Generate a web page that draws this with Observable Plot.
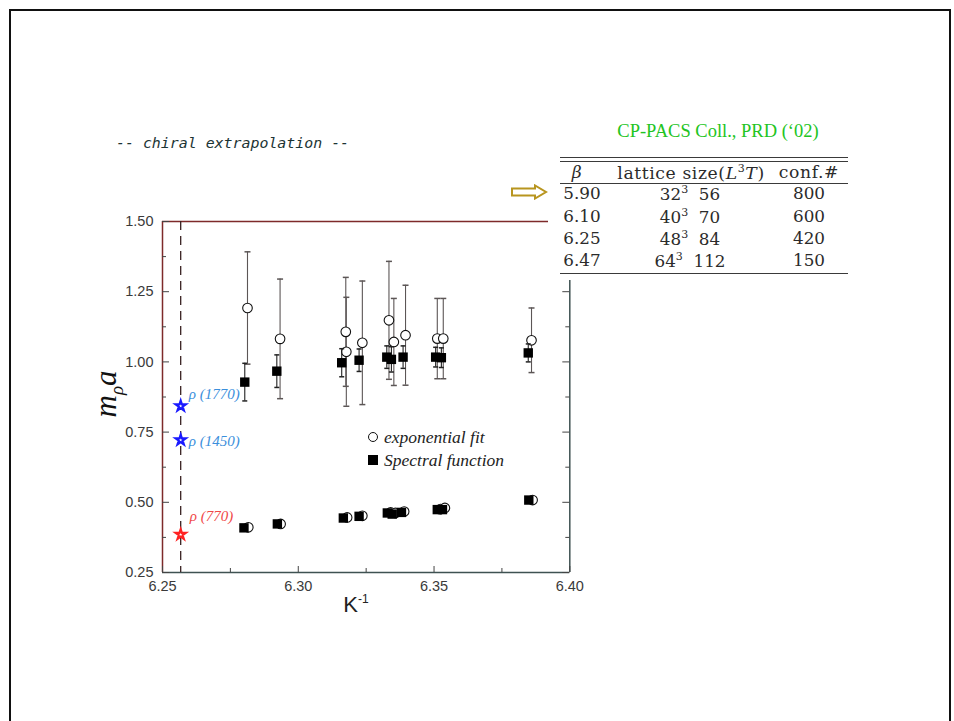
<!DOCTYPE html>
<html><head><meta charset="utf-8">
<script src="https://cdn.jsdelivr.net/npm/d3@7"></script>
<script src="https://cdn.jsdelivr.net/npm/@observablehq/plot@0.6"></script>
<style>
html,body{margin:0;padding:0;overflow:hidden;background:#fff;}
#page{position:relative;width:954px;height:721px;overflow:hidden;background:#fff;}
#page > svg.chart{position:absolute;left:0;top:0;}
.abs{position:absolute;white-space:nowrap;line-height:1;}
#border{position:absolute;left:9px;top:9px;width:942px;height:800px;border:2px solid #111;box-sizing:border-box;}
#title{left:116px;top:143px;transform:translateY(-50%);font-family:"DejaVu Sans Mono",monospace;font-style:oblique;font-size:14.9px;color:#1c3434;}
#cite{left:718px;top:131px;transform:translate(-50%,-50%);font-family:"Liberation Serif","Times New Roman",serif;font-size:18.5px;color:#22c422;}
#table{position:absolute;left:548px;top:148px;width:304px;height:132px;background:#fff;}
#table .ln{position:absolute;left:12px;width:288px;height:1.3px;background:#3a3a3a;}
#table .c{position:absolute;transform:translate(-50%,-50%);white-space:nowrap;line-height:1;font-family:"DejaVu Serif",serif;font-size:16.8px;color:#2b2b2b;}
#table .h{font-size:17.2px;letter-spacing:0.6px;}
#arrow{position:absolute;left:510px;top:184px;}
#ylab{left:108px;top:394px;transform:translate(-50%,-50%) rotate(-90deg);font-family:"Liberation Serif","Times New Roman",serif;font-style:italic;font-size:31px;color:#111;}
#ylab sub{font-size:19px;vertical-align:-7px;}
#xlab{left:356px;top:604px;transform:translate(-50%,-50%);font-family:"Liberation Sans",Arial,sans-serif;font-size:22px;color:#222;}
#xlab sup{font-size:12px;vertical-align:9px;}
.leg{font-family:"Liberation Serif","Times New Roman",serif;font-style:italic;font-size:17.5px;color:#222;transform:translateY(-50%);}
.sym{position:absolute;box-sizing:border-box;transform:translate(-50%,-50%);}
</style></head>
<body><div id="page"></div>
<script>
// ---- data ----
const xMajorTicks = [6.25, 6.30, 6.35, 6.40];
const xMinorTicks = [6.275, 6.325, 6.375];
const yMajorTicks = [0.25, 0.50, 0.75, 1.00, 1.25, 1.50];
const yMinorTicks = [0.375, 0.625, 0.875, 1.125, 1.375];

// excited-state (upper) masses: exponential fit
const expX   = [6.2813, 6.2933, 6.3175, 6.3177, 6.3236, 6.3334, 6.3352, 6.3395, 6.3512, 6.3534, 6.3859];
const expY   = [1.192, 1.082, 1.107, 1.036, 1.068, 1.148, 1.071, 1.095, 1.083, 1.083, 1.077];
const expErr = [0.200, 0.213, 0.194, 0.194, 0.220, 0.210, 0.155, 0.178, 0.143, 0.143, 0.115];
// excited-state (upper) masses: spectral function
const spX   = [6.2803, 6.2921, 6.3160, 6.3224, 6.3326, 6.3343, 6.3386, 6.3506, 6.3527, 6.3847];
const spY   = [0.928, 0.967, 0.997, 1.006, 1.017, 1.009, 1.017, 1.017, 1.015, 1.032];
const spErr = [0.067, 0.058, 0.050, 0.040, 0.040, 0.045, 0.040, 0.035, 0.035, 0.032];
// ground state (lower)
const expLowX = [6.2816, 6.2935, 6.3180, 6.3236, 6.3340, 6.3358, 6.3390, 6.3524, 6.3540, 6.3863];
const expLowY = [0.411, 0.423, 0.446, 0.452, 0.464, 0.462, 0.467, 0.476, 0.480, 0.508];
const spLowX  = [6.2800, 6.2923, 6.3166, 6.3224, 6.3328, 6.3346, 6.3380, 6.3512, 6.3531, 6.3849];
const spLowY  = [0.409, 0.423, 0.444, 0.450, 0.462, 0.458, 0.464, 0.474, 0.474, 0.508];

// chiral limit and experimental rho masses
const chiralLimit = 6.2567;
const starLabels = ["ρ (1770)", "ρ (1450)", "ρ (770)"];
const starY = [0.843, 0.722, 0.385];

// table
const tableHeader = ["β", "lattice size(L³T)", "conf.#"];
const tableBeta = ["5.90", "6.10", "6.25", "6.47"];
const tableLattice = [["32", "56"], ["40", "70"], ["48", "84"], ["64", "112"]];
const tableConf = ["800", "600", "420", "150"];

// ---- build ----
const exp = expX.map((x, i) => ({x, y: expY[i], e: expErr[i]}));
const sp = spX.map((x, i) => ({x, y: spY[i], e: spErr[i]}));
const expLow = expLowX.map((x, i) => ({x, y: expLowY[i]}));
const spLow = spLowX.map((x, i) => ({x, y: spLowY[i]}));
const stars = starY.map((y, i) => ({x: chiralLimit, y, label: starLabels[i]}));

const cap = {draw(ctx, size) { const w = Math.sqrt(size / Math.PI); ctx.moveTo(-w, 0); ctx.lineTo(w, 0); }};

const W = 954, H = 721, mL = 162, mR = 384.7, mT = 221, mB = 149;
const fw = W - mL - mR, fh = H - mT - mB;
const frameRed = "#7e2a2a", frameGray = "#3f5252";
const labelFont = "Liberation Serif, Times New Roman, serif";

const chart = Plot.plot({
  width: W, height: H,
  marginLeft: mL, marginRight: mR, marginTop: mT, marginBottom: mB,
  x: {domain: [6.25, 6.40]},
  y: {domain: [0.25, 1.50]},
  className: "chart",
  style: {background: "transparent", fontFamily: "Liberation Sans, Arial, sans-serif"},
  marks: [
    // frame
    Plot.ruleY([1.50], {stroke: frameRed, strokeWidth: 1.5}),
    Plot.ruleX([6.25], {stroke: frameRed, strokeWidth: 1.5}),
    Plot.ruleY([0.25], {stroke: frameGray, strokeWidth: 1.5}),
    Plot.ruleX([6.40], {stroke: frameGray, strokeWidth: 1.5}),
    // inward ticks
    Plot.tickY(yMajorTicks, {y: d => d, insetRight: fw - 7, stroke: "#444"}),
    Plot.tickY(yMinorTicks, {y: d => d, insetRight: fw - 4, stroke: "#444"}),
    Plot.tickY(yMajorTicks, {y: d => d, insetLeft: fw - 7, stroke: "#444"}),
    Plot.tickY(yMinorTicks, {y: d => d, insetLeft: fw - 4, stroke: "#444"}),
    Plot.tickX(xMajorTicks, {x: d => d, insetTop: fh - 6, stroke: "#444"}),
    Plot.tickX(xMinorTicks, {x: d => d, insetTop: fh - 4, stroke: "#444"}),
    // axes labels
    Plot.axisY({ticks: yMajorTicks, tickSize: 0, tickPadding: 9, tickFormat: d3.format(".2f"), label: null, fontSize: 14.5, fill: "#3a3a3a"}),
    Plot.axisX({ticks: xMajorTicks, tickSize: 0, tickPadding: 8, tickFormat: d3.format(".2f"), label: null, fontSize: 14.5, fill: "#3a3a3a"}),
    // chiral limit
    Plot.ruleX([chiralLimit], {stroke: "#3a2222", strokeWidth: 1.3, strokeDasharray: "9,6"}),
    // exponential fit error bars + circles
    Plot.ruleX(exp, {x: "x", y1: d => d.y - d.e, y2: d => d.y + d.e, stroke: "#5c5656", strokeWidth: 1.1}),
    Plot.dot(exp, {x: "x", y: d => d.y + d.e, symbol: cap, r: 3, stroke: "#5c5656", fill: "none"}),
    Plot.dot(exp, {x: "x", y: d => d.y - d.e, symbol: cap, r: 3, stroke: "#5c5656", fill: "none"}),
    Plot.dot(expLow, {x: "x", y: "y", r: 4.8, stroke: "#111", strokeWidth: 1.1, fill: "white"}),
    Plot.dot(exp, {x: "x", y: "y", r: 4.8, stroke: "#111", strokeWidth: 1.1, fill: "white"}),
    // spectral function error bars + squares
    Plot.ruleX(sp, {x: "x", y1: d => d.y - d.e, y2: d => d.y + d.e, stroke: "#222", strokeWidth: 1.1}),
    Plot.dot(sp, {x: "x", y: d => d.y + d.e, symbol: cap, r: 2.5, stroke: "#222", fill: "none"}),
    Plot.dot(sp, {x: "x", y: d => d.y - d.e, symbol: cap, r: 2.5, stroke: "#222", fill: "none"}),
    Plot.dot(spLow, {x: "x", y: "y", symbol: "square", r: 5.3, fill: "#000", stroke: "none"}),
    Plot.dot(sp, {x: "x", y: "y", symbol: "square", r: 5.3, fill: "#000", stroke: "none"}),
    // experimental rho states
    Plot.dot(stars.slice(0, 2), {x: "x", y: "y", symbol: "star", r: 3.2, stroke: "#1a1aff", strokeWidth: 2.2, fill: "white"}),
    Plot.dot(stars.slice(2), {x: "x", y: "y", symbol: "star", r: 3.2, stroke: "#ff2222", strokeWidth: 2.2, fill: "white"}),
    Plot.text(stars.slice(0, 1), {x: "x", y: "y", text: "label", dx: 8, dy: -12, textAnchor: "start", fill: "#3b8fdc", fontStyle: "italic", fontFamily: labelFont, fontSize: 15}),
    Plot.text(stars.slice(1, 2), {x: "x", y: "y", text: "label", dx: 8, dy: 1, textAnchor: "start", fill: "#3b8fdc", fontStyle: "italic", fontFamily: labelFont, fontSize: 15}),
    Plot.text(stars.slice(2), {x: "x", y: "y", text: "label", dx: 9, dy: -18, textAnchor: "start", fill: "#f04848", fontStyle: "italic", fontFamily: labelFont, fontSize: 15})
  ]
});

const page = document.getElementById("page");
page.appendChild(chart);

function add(html, cls, id, parent = page) {
  const d = document.createElement("div");
  d.className = cls; if (id) d.id = id; d.innerHTML = html;
  parent.appendChild(d); return d;
}
add("", "", "border");
add("-- chiral extrapolation --", "abs", "title");
add("CP-PACS Coll., PRD (‘02)", "abs", "cite");
add("m<sub>ρ</sub>a", "abs", "ylab");
add("K<sup>-1</sup>", "abs", "xlab");

// legend
const lc = add("", "sym"); Object.assign(lc.style, {left: "373px", top: "437px", width: "10px", height: "10px", border: "1.3px solid #111", borderRadius: "50%", background: "#fff"});
const ls = add("", "sym"); Object.assign(ls.style, {left: "373px", top: "460px", width: "10px", height: "10px", background: "#000"});
const l1 = add("exponential fit", "abs leg"); Object.assign(l1.style, {left: "384px", top: "438px"});
const l2 = add("Spectral function", "abs leg"); Object.assign(l2.style, {left: "384px", top: "461px"});

// table
const tbl = add("", "", "table");
[8.7, 13, 34.7, 124.7].forEach(t => { const l = add("", "ln", null, tbl); l.style.top = t + "px"; });
const colX = [30, 143, 261];
const rowY = [25.3, 45.3, 68, 90.3, 112];
function cell(html, x, y, extra = "") { const c = add(html, "c" + extra, null, tbl); c.style.left = x + "px"; c.style.top = y + "px"; }
const sup3 = "<sup style='font-size:11px;vertical-align:7px'>3</sup>";
cell("<i>" + tableHeader[0] + "</i>", colX[0] - 1, rowY[0], " h");
cell(tableHeader[1].replace("L³T", "<i>L</i>" + sup3 + "<i>T</i>"), colX[1], rowY[0], " h");
cell(tableHeader[2], colX[2], rowY[0], " h");
tableBeta.forEach((b, i) => {
  cell(b, colX[0] + 4, rowY[i + 1]);
  cell(tableLattice[i][0] + sup3 + "&nbsp; " + tableLattice[i][1], colX[1] - 1, rowY[i + 1]);
  cell(tableConf[i], colX[2], rowY[i + 1]);
});

// arrow
const ar = document.createElementNS("http://www.w3.org/2000/svg", "svg");
ar.setAttribute("width", "40"); ar.setAttribute("height", "16");
ar.setAttribute("style", "position:absolute;left:510px;top:184px;");
ar.innerHTML = '<path d="M2,4.5 H25 V1.5 L36,8 L25,14.5 V11.5 H2 Z" fill="#fff" stroke="#b8951f" stroke-width="2" stroke-linejoin="miter"/>';
page.appendChild(ar);
</script>
</body></html>
